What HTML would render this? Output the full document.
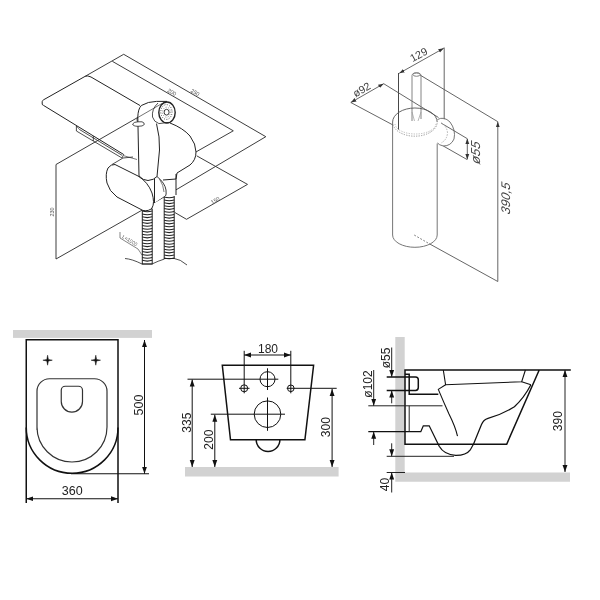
<!DOCTYPE html>
<html><head><meta charset="utf-8">
<style>
html,body{margin:0;padding:0;background:#fff;width:600px;height:600px;overflow:hidden}
svg{display:block;will-change:transform}
text{font-family:"Liberation Sans",sans-serif}
</style></head>
<body>
<svg width="600" height="600" viewBox="0 0 600 600">
<defs>
<marker id="ar" viewBox="0 0 10 10" refX="10" refY="5" markerWidth="7" markerHeight="7" markerUnits="userSpaceOnUse" orient="auto-start-reverse"><path d="M0,1.5 L10,5 L0,8.5 z" fill="#111"/></marker>
<marker id="ar2" viewBox="0 0 10 10" refX="10" refY="5" markerWidth="5.5" markerHeight="5.5" markerUnits="userSpaceOnUse" orient="auto-start-reverse"><path d="M0,1.5 L10,5 L0,8.5 z" fill="#333"/></marker>
</defs>
<!-- ============ BOTTOM LEFT: top view ============ -->
<g id="bl">
<rect x="13" y="330" width="139" height="7.9" fill="#d2d2d2"/>
<g fill="none" stroke="#111" stroke-width="1.5">
<path d="M26.25,503 V339.75 H118 V503"/>
<path d="M26.25,427.5 A45.875,45.8 0 0 0 118,427.5"/>
<path d="M37,430 V391.25 A12.5,12.5 0 0 1 49.5,378.75 H94.5 A12.5,12.5 0 0 1 107,391.25 V427 A35,35 0 0 1 37,427 Z" stroke-width="1.2" stroke="#333"/>
<path d="M61.25,390.25 A4,4 0 0 1 65.25,386.25 H78.5 A4,4 0 0 1 82.5,390.25 V401.5 A10.625,10.625 0 0 1 61.25,401.5 Z" stroke-width="1.2" stroke="#333"/>
<path d="M42.90,360.20 L46.80,359.40 L47.60,355.20 L48.40,359.40 L52.30,360.20 L48.40,361.00 L47.60,365.20 L46.80,361.00 Z M91.10,360.20 L95.00,359.40 L95.80,355.20 L96.60,359.40 L100.50,360.20 L96.60,361.00 L95.80,365.20 L95.00,361.00 Z" fill="#111" stroke="#111" stroke-width="0.5" stroke-linejoin="round"/>
</g>
<g fill="none" stroke="#111" stroke-width="1">
<path d="M71,473.75 H149"/>
<path d="M144.5,340 V473.75" marker-start="url(#ar)" marker-end="url(#ar)"/>
<path d="M26.25,498.75 H118" marker-start="url(#ar)" marker-end="url(#ar)"/>
</g>
<text x="72.2" y="495" font-size="12.5" text-anchor="middle" fill="#222">360</text>
<text transform="translate(143,405) rotate(-90)" font-size="12.5" text-anchor="middle" fill="#222">500</text>
</g>
<!-- ============ BOTTOM MIDDLE: front view ============ -->
<g id="bm">
<rect x="185" y="467" width="153.6" height="9.5" fill="#d2d2d2"/>
<g fill="none" stroke="#111" stroke-width="1.5">
<path d="M222.3,365.3 H313.6 L304.9,439.8 H230.5 Z"/>
<path d="M256.2,439.8 A11.85,11.6 0 0 0 279.9,439.8"/>
</g>
<g fill="none" stroke="#111" stroke-width="1">
<circle cx="267.5" cy="379.2" r="7.5"/>
<circle cx="267.5" cy="414.2" r="13.3"/>
<circle cx="244.2" cy="388.3" r="3.5"/>
<circle cx="290.8" cy="388.3" r="3.3"/>
<path d="M267.5,368.3 V390 M267.5,397.5 V430.8"/>
<path d="M187.5,379.2 H278.3"/>
<path d="M210.8,414.2 H285"/>
<path d="M239,388.3 H249.5"/>
<path d="M286.7,388.3 H336.7"/>
<path d="M244.2,350.8 V393.3 M290.8,350.8 V393.3"/>
<path d="M244.2,355 H290.8" marker-start="url(#ar)" marker-end="url(#ar)"/>
<path d="M192.2,379.5 V467" marker-start="url(#ar)" marker-end="url(#ar)"/>
<path d="M214.8,414.7 V467" marker-start="url(#ar)" marker-end="url(#ar)"/>
<path d="M332.1,389 V467" marker-start="url(#ar)" marker-end="url(#ar)"/>
</g>
<text x="268" y="352.5" font-size="12" text-anchor="middle" fill="#222">180</text>
<text transform="translate(190.8,422.7) rotate(-90)" font-size="12" text-anchor="middle" fill="#222">335</text>
<text transform="translate(212.6,439.7) rotate(-90)" font-size="12" text-anchor="middle" fill="#222">200</text>
<text transform="translate(329.6,427.2) rotate(-90)" font-size="12" text-anchor="middle" fill="#222">300</text>
</g>
<!-- ============ BOTTOM RIGHT: side view ============ -->
<g id="br">
<path d="M395.3,337 H404.7 V472.5 H570 V481.7 H395.3 Z" fill="#d2d2d2"/>
<g fill="none" stroke="#111" stroke-width="1.5">
<path d="M570.8,370 H405 V444.2 H506.7 L539.2,370"/>
<path d="M386.7,376.9 H415.5 Q418.3,376.9 418.3,379.7 V387.6 Q418.3,390.5 415.5,390.5 H386.7"/>
<path d="M405,374.2 H409.2 V394.2 H438.3"/>
<path stroke-width="1.25" d="M368.3,431.7 H420.8 L423.3,425.8 H429.2 L439.2,446.2 Q444,454.5 455.7,455.4 Q466,455.5 470.5,449.5 Q474,444 476,438 L481.5,424.5 Q483.5,419.5 488,418.3 Q501,415 514.4,406.8 Q524,398 530.9,384.8"/>
</g>
<g fill="none" stroke="#111" stroke-width="1.1">
<path d="M443.3,370 L445.6,384.8 L521.7,381.7 L525.4,370"/>
<path d="M521.7,381.7 L530.9,384.8"/>
<path d="M445.6,384.8 L438.3,389.4 Q444,403 449,414 Q455.5,427 457.5,436.1"/>
</g>
<g fill="none" stroke="#222" stroke-width="1">
<path d="M368.3,405.8 H442.5"/>
<path d="M409.2,405.8 V431.7"/>
<path d="M386.7,456.3 H454"/>
<path d="M386.7,472.5 H405"/>
<path d="M391.7,347.5 V376.9" marker-end="url(#ar)"/>
<path d="M391.7,403.3 V390.5" marker-end="url(#ar)"/>
<path d="M373.7,370 V405.8" marker-end="url(#ar)"/>
<path d="M373.7,445 V431.7" marker-end="url(#ar)"/>
<path d="M391.7,443.3 V456.3" marker-end="url(#ar)"/>
<path d="M391.7,492.5 V472.5" marker-end="url(#ar)"/>
<path d="M565,370 V472" marker-start="url(#ar)" marker-end="url(#ar)"/>
</g>
<text transform="translate(389.7,358) rotate(-90)" font-size="12" text-anchor="middle" fill="#222">ø55</text>
<text transform="translate(371.5,384) rotate(-90)" font-size="12" text-anchor="middle" fill="#222">ø102</text>
<text transform="translate(389.2,484.5) rotate(-90)" font-size="12" text-anchor="middle" fill="#222">40</text>
<text transform="translate(561.7,421.2) rotate(-90)" font-size="12" text-anchor="middle" fill="#222">390</text>
</g>
<!-- ============ TOP RIGHT: brush holder ============ -->
<g id="tr">
<g fill="none" stroke="#555" stroke-width="0.9">
<path d="M398.5,73 V129.6" stroke="#333"/>
<path d="M444.2,47.5 V119.3"/>
<path d="M399.2,73.3 L443.8,48.2" marker-start="url(#ar2)" marker-end="url(#ar2)"/>
<path d="M350.8,102.5 L383.7,83.7" marker-start="url(#ar2)" marker-end="url(#ar2)"/>
<path d="M350.8,102.5 L393,125"/>
<path d="M383.7,83.7 L438.5,117.5 M441,123 L467,138.5"/>
<path d="M420,75 L497.8,121.7"/>
<path d="M443.3,146 L467,159.5"/>
<path d="M467.3,138.5 V159.5" marker-start="url(#ar2)" marker-end="url(#ar2)"/>
<path d="M497.8,121.7 V281.5" marker-start="url(#ar2)"/>
<path d="M429.3,243.75 L497.8,281.5"/>
<path d="M414.2,235 L429.3,243.75" stroke-dasharray="2 1.5" stroke="#777"/>
</g>
<g fill="none" stroke="#555" stroke-width="0.9">
<path d="M412,121 V75.5 Q412,73 416.5,73 Q421,73 421,75.5 V119" stroke="#777"/>
<ellipse cx="416.5" cy="74.5" rx="3.5" ry="1.8" stroke="#777"/>
<path d="M412,112 L414.5,121 M421,112 L418,121" stroke="#999" stroke-width="0.7"/>
<path d="M392.6,122.1 A22.3,14.1 0 0 1 437.2,122.1"/>
<path d="M392.6,122.1 A22.3,14.1 0 0 0 437.2,122.1" stroke-dasharray="1.2 1.3" stroke="#888"/><path d="M395,124 A20.5,10.5 0 0 0 436,123" stroke-dasharray="1.2 1.3" stroke="#999" stroke-width="0.7"/>
<path d="M392.6,122.1 V235 A22.3,12.3 0 0 0 437.2,235 V143.5" stroke="#666"/>
<path d="M437.5,119.5 Q444,116 450,122 Q456,130 454,139 Q451,146 443.3,146 Q439,145 437.5,143" stroke="#666"/>
<path d="M441,123 Q447,126 447.5,133 Q447,140 441,143" stroke="#aaa" stroke-dasharray="1.5 1.2"/>
</g>
<text transform="translate(420.5,58) rotate(-28.5)" font-size="10.8" text-anchor="middle" fill="#444">129</text>
<text transform="translate(363.5,93) rotate(-29.5)" font-size="10.8" text-anchor="middle" fill="#444">ø92</text>
<text transform="translate(479.5,154) rotate(-90) skewX(-22)" font-size="13" text-anchor="middle" fill="#444">ø55</text>
<text transform="translate(510,199.5) rotate(-90) skewX(-22)" font-size="12.5" text-anchor="middle" fill="#444">390,5</text>
</g>
<!-- ============ TOP LEFT: hygienic shower ============ -->
<g id="tl">
<!-- dimension lines -->
<g fill="none" stroke="#333" stroke-width="0.95">
<path d="M85.2,76.3 L123.7,54.3 L265.8,136.7 L152.5,203.75"/>
<path d="M112.3,61.3 L233.3,130.8 L195,152.5"/>
<path d="M196.7,155.8 L247.5,184.4 L186.5,219.3 L175,212.6"/>
<path d="M56,164.5 V259"/>
<path d="M56,164.5 L162,103.5"/>
<path d="M56,259 L142.3,210"/>
<path d="M120,232 V238 L138,249 L142,255" stroke-width="0.6"/>
</g>
<g fill="#555" font-size="5.5">
<text transform="translate(171,93.8) rotate(30)" text-anchor="middle">200</text>
<text transform="translate(194.3,94) rotate(30)" text-anchor="middle">250</text>
<text transform="translate(216.2,202) rotate(-30.5)" text-anchor="middle">150</text>
<text transform="translate(54,212) rotate(-90)" text-anchor="middle">230</text>
<text transform="translate(129,242) rotate(31)" text-anchor="middle" font-size="5">L=1000</text>
</g>
<!-- shelf -->
<g fill="none" stroke="#222" stroke-width="1">
<path d="M85.2,76.3 L43.75,99.7 Q42.2,100.6 42.2,101.6 V104 Q42.2,105 43.5,105.4 L123.7,154.5"/>
<path d="M85.2,76.3 Q87.5,75.2 91,77 L140,105.5"/>
<path d="M76.4,126 V131 L122,158 L123.7,154.5" stroke-width="0.8"/>
<path d="M79.5,129.5 L122,155.3" stroke-width="0.8"/><path d="M76.4,126 L79.5,129.5" stroke-width="0.6"/>
<path d="M93.3,136 V141" stroke-width="0.8"/>
<path d="M123.7,155.7 L137,159.5" stroke-width="0.6"/>
</g>
<!-- hoses -->
<g>
<rect x="142.3" y="209" width="9.9" height="55" fill="#fff" stroke="#222" stroke-width="1"/>
<rect x="164.2" y="195" width="10" height="63.5" fill="#fff" stroke="#222" stroke-width="1"/>
<path id="rib" d="" />
</g>
<g fill="none" stroke="#222" stroke-width="1.1" id="ribs"><path d="M142.3,211.0 Q147.25,212.6 152.2,211.0"/><path d="M142.3,213.9 Q147.25,215.5 152.2,213.9"/><path d="M142.3,216.8 Q147.25,218.4 152.2,216.8"/><path d="M142.3,219.7 Q147.25,221.3 152.2,219.7"/><path d="M142.3,222.6 Q147.25,224.2 152.2,222.6"/><path d="M142.3,225.5 Q147.25,227.1 152.2,225.5"/><path d="M142.3,228.4 Q147.25,230.0 152.2,228.4"/><path d="M142.3,231.3 Q147.25,232.9 152.2,231.3"/><path d="M142.3,234.2 Q147.25,235.8 152.2,234.2"/><path d="M142.3,237.1 Q147.25,238.7 152.2,237.1"/><path d="M142.3,240.0 Q147.25,241.6 152.2,240.0"/><path d="M142.3,242.9 Q147.25,244.5 152.2,242.9"/><path d="M142.3,245.8 Q147.25,247.4 152.2,245.8"/><path d="M142.3,248.7 Q147.25,250.3 152.2,248.7"/><path d="M142.3,251.6 Q147.25,253.2 152.2,251.6"/><path d="M142.3,254.5 Q147.25,256.1 152.2,254.5"/><path d="M142.3,257.4 Q147.25,259.0 152.2,257.4"/><path d="M142.3,260.3 Q147.25,261.9 152.2,260.3"/><path d="M164.2,197.0 Q169.2,198.6 174.2,197.0"/><path d="M164.2,199.9 Q169.2,201.5 174.2,199.9"/><path d="M164.2,202.8 Q169.2,204.4 174.2,202.8"/><path d="M164.2,205.7 Q169.2,207.3 174.2,205.7"/><path d="M164.2,208.6 Q169.2,210.2 174.2,208.6"/><path d="M164.2,211.5 Q169.2,213.1 174.2,211.5"/><path d="M164.2,214.4 Q169.2,216.0 174.2,214.4"/><path d="M164.2,217.3 Q169.2,218.9 174.2,217.3"/><path d="M164.2,220.2 Q169.2,221.8 174.2,220.2"/><path d="M164.2,223.1 Q169.2,224.7 174.2,223.1"/><path d="M164.2,226.0 Q169.2,227.6 174.2,226.0"/><path d="M164.2,228.9 Q169.2,230.5 174.2,228.9"/><path d="M164.2,231.8 Q169.2,233.4 174.2,231.8"/><path d="M164.2,234.7 Q169.2,236.3 174.2,234.7"/><path d="M164.2,237.6 Q169.2,239.2 174.2,237.6"/><path d="M164.2,240.5 Q169.2,242.1 174.2,240.5"/><path d="M164.2,243.4 Q169.2,245.0 174.2,243.4"/><path d="M164.2,246.3 Q169.2,247.9 174.2,246.3"/><path d="M164.2,249.2 Q169.2,250.8 174.2,249.2"/><path d="M164.2,252.1 Q169.2,253.7 174.2,252.1"/><path d="M164.2,255.0 Q169.2,256.6 174.2,255.0"/><path d="M164.2,257.9 Q169.2,259.5 174.2,257.9"/></g>
<!-- ground -->
<path d="M125,258.5 Q132,259 142,264 H152 Q158,261 164.5,259" fill="none" stroke="#222" stroke-width="0.8"/>
<path d="M174.2,258.5 Q180,259 187,265" fill="none" stroke="#222" stroke-width="0.8"/>
<!-- holder and shower body -->
<g fill="#fff" stroke="none">
<path d="M141.3,105.5 Q138,109 137.8,117 L139,176 L115,164.5 Q105,170 107,183 L117,197 L143,210.5 Q152,212 154,204 L154.5,203 L164.2,196 H176 V179 L177,173 L190,165 Q196,160 196,152 Q196,144 190,136 Q183,128 170,123 L167,101.4 H156.5 Q148,101.5 141.3,105.5 Z"/>
</g>
<g fill="none" stroke="#222" stroke-width="1">
<path d="M141.3,105.5 Q138,109 137.8,117 L139,176 Q143,180.5 148,180.5 Q154,180 157,176.5 L159.5,150 Q160,137 156.5,123.6"/>
<path d="M170,123 Q183,128 190,136 Q196,144 196,152 Q196,160 190,165 L177,173 L176,179 L163,180 M176,174 V195"/>
<path d="M115,164.5 L138,176 Q148,182 152,193 Q155,203 152,208 Q149,211.5 143,210.5 L117,197 Q109,191 107,183 Q105,174 108,168 Q111,164 115,164.5 Z"/>
<path d="M154.5,178.5 V203"/>
<path d="M157,176.5 Q165,183 166,190 Q166.5,195 165.5,196" stroke-width="0.9"/>
<path d="M159.5,179 Q163.5,185 164,192" stroke-width="0.6"/>
<path d="M112,164.5 L123,158 L133,157" stroke-width="0.8"/>
</g>
<path d="M137.8,117.5 L162,103.5" fill="none" stroke="#444" stroke-width="0.75"/>
<!-- shower head -->
<g fill="none" stroke="#222">
<path d="M141.3,105.5 Q148,101.5 156.5,101.4 H167" stroke-width="1"/>
<path d="M158,103 Q151.5,109 152.5,117 Q154,122 158.8,123.5" stroke-width="0.8"/>
<ellipse cx="167" cy="112.5" rx="8.2" ry="10.5" stroke-width="1.4" fill="#fff"/>
<ellipse cx="166.4" cy="112" rx="5.6" ry="7.4" stroke-width="1" stroke-dasharray="0.1 2.3" stroke-linecap="round" stroke="#333"/><ellipse cx="166.5" cy="112.2" rx="3.9" ry="5" stroke-width="0.8" stroke-dasharray="0.1 2.4" stroke-linecap="round" stroke="#555"/>
<ellipse cx="166.6" cy="112.2" rx="2.5" ry="2.9" stroke-width="0.9"/>
<path d="M158.8,123.6 L168.7,122.4" stroke-width="0.8"/>
<path d="M137.5,117 Q136.5,120 137.5,122" stroke-width="0.8"/><path d="M132.6,124 Q134,121.8 138,121.8 H142 Q144.5,122.5 144.3,124.5 Q143,126.5 138,126.3 Q133,126.3 132.6,124 Z" stroke-width="0.8" fill="#fff"/>
</g>
</g>
</svg>
</body></html>
